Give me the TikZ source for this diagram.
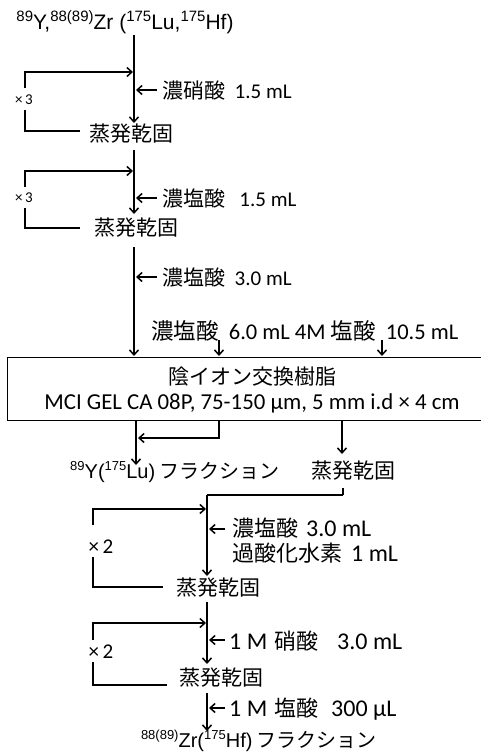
\documentclass[tikz,border=0pt]{standalone}
\usepackage{fontspec}
\setmainfont{Carlito}
\newfontfamily\jp{Noto Sans CJK JP}
\newfontfamily\ar{Liberation Sans}
\usetikzlibrary{arrows.meta}
\newcommand\sups[1]{\raisebox{0.75ex}{\fontsize{13}{13}\selectfont #1}}
\newcommand\supt[1]{\raisebox{0.7ex}{\fontsize{15}{15}\selectfont #1}}
\newcommand\jpb{\jp\fontsize{22}{24}\selectfont}
\tikzset{
  ln/.style={line width=1.5pt},
  arr/.style={line width=1.5pt,-{Straight Barb[length=5pt,width=9pt]}},
  txt/.style={inner sep=0pt,font=\fontsize{21}{24}\selectfont},
  lbl/.style={txt,anchor=west},
  lblb/.style={inner sep=0pt,anchor=west,font=\fontsize{24}{26}\selectfont},
  rep/.style={inner sep=0pt,font=\fontsize{21}{24}\selectfont},
  reps/.style={inner sep=0pt,font=\fontsize{15}{16}\selectfont},
}
\begin{document}
\begin{tikzpicture}[x=1pt,y=-1pt]
\useasboundingbox (0,0) rectangle (481,755);
% title
\node[inner sep=0pt,font=\fontsize{21}{24}\selectfont\ar] (T) at (125,22) {\supt{89}Y,\supt{88(89)}Zr (\supt{175}Lu,\supt{175}Hf)};
% section 1
\coordinate (a0) at (134,35); \coordinate (a1) at (134,123);
\draw[arr] (a0) -- (a1);
\coordinate (l1a) at (25,88); \coordinate (l1b) at (25,72); \coordinate (l1c) at (133,72);
\draw[arr] (l1a) -- (l1b) -- (l1c);
\coordinate (l1d) at (25,110); \coordinate (l1e) at (25,131); \coordinate (l1f) at (80,131);
\draw[ln] (l1d) -- (l1e) -- (l1f);
\node[reps] (x1) at (24,100) {×\,3};
\coordinate (r1a) at (157,90); \coordinate (r1b) at (136,90);
\draw[arr] (r1a) -- (r1b);
\node[lbl] (L1) at (162,90) {{\jp 濃硝酸}\ \ 1.5 mL};
\node[txt] (E1) at (131,134) {\jp 蒸発乾固};
% section 2
\coordinate (b0) at (134,150); \coordinate (b1) at (134,214);
\draw[arr] (b0) -- (b1);
\coordinate (l2a) at (25,187); \coordinate (l2b) at (25,171); \coordinate (l2c) at (133,171);
\draw[arr] (l2a) -- (l2b) -- (l2c);
\coordinate (l2d) at (25,208); \coordinate (l2e) at (25,228); \coordinate (l2f) at (80,228);
\draw[ln] (l2d) -- (l2e) -- (l2f);
\node[reps] (x2) at (24,198) {×\,3};
\coordinate (r2a) at (157,198); \coordinate (r2b) at (136,198);
\draw[arr] (r2a) -- (r2b);
\node[lbl] (L2) at (162,198) {{\jp 濃塩酸}\ \ \ 1.5 mL};
\node[txt] (E2) at (136,228) {\jp 蒸発乾固};
% section 3
\coordinate (c0) at (134,247); \coordinate (c1) at (134,356);
\draw[arr] (c0) -- (c1);
\coordinate (r3a) at (157,277); \coordinate (r3b) at (136,277);
\draw[arr] (r3a) -- (r3b);
\node[lbl] (L3) at (162,277) {{\jp 濃塩酸}\ \ 3.0 mL};
\node[lbl,font=\fontsize{22.5}{24}\selectfont] (L4) at (151,331) {{\jp 濃塩酸}\ \ 6.0 mL 4M {\jp 塩酸}\ \ 10.5 mL};
\coordinate (s1a) at (219,340); \coordinate (s1b) at (219,356);
\coordinate (s2a) at (382,340); \coordinate (s2b) at (382,356);
\draw[arr] (s1a) -- (s1b);
\draw[arr] (s2a) -- (s2b);
% column box
\node[draw,line width=1pt,minimum width=483pt,minimum height=63pt,anchor=north west,inner sep=0pt] (box) at (7,357) {};
\node[txt] (B1) at (252,377) {\jp 陰イオン交換樹脂};
\node[txt,font=\fontsize{22.8}{24}\selectfont] (B2) at (252,403) {MCI GEL CA 08P, 75-150 μm, 5 mm i.d × 4 cm};
% below box
\coordinate (d0) at (136,420); \coordinate (d1) at (136,465);
\draw[arr] (d0) -- (d1);
\coordinate (d2) at (219,420); \coordinate (d3) at (219,438); \coordinate (d4) at (138,438);
\draw[arr] (d2) -- (d3) -- (d4);
\coordinate (d5) at (342,420); \coordinate (d6) at (342,454);
\draw[arr] (d5) -- (d6);
\node[inner sep=0pt,font=\fontsize{20}{24}\selectfont] (F1) at (175,472) {{\ar\sups{89}Y(\sups{175}Lu)} {\jp フラクション}};
\node[txt] (E3) at (353,471) {\jp 蒸発乾固};
% section 4
\coordinate (e0) at (343,488); \coordinate (e1) at (343,495); \coordinate (e2) at (207,495);
\draw[ln] (e0) -- (e1);
\draw[line width=2.2pt] (e1) -- (e2);
\coordinate (e3) at (207,576);
\draw[arr] (e2) -- (e3);
\coordinate (l4a) at (93,525); \coordinate (l4b) at (93,509); \coordinate (l4c) at (206,509);
\draw[arr] (l4a) -- (l4b) -- (l4c);
\coordinate (l4d) at (93,557); \coordinate (l4e) at (93,587); \coordinate (l4f) at (163,587);
\draw[ln] (l4d) -- (l4e) -- (l4f);
\node[rep] (x3) at (101,547) {×\,2};
\coordinate (r4a) at (225,529); \coordinate (r4b) at (209,529);
\draw[arr] (r4a) -- (r4b);
\node[lblb] (L5) at (232,528) {\makebox[74pt][l]{\jpb 濃塩酸}3.0 mL};
\node[lblb] (L6) at (232,553) {\makebox[119pt][l]{\jpb 過酸化水素}1 mL};
\node[txt] (E4) at (218,588) {\jp 蒸発乾固};
% section 5
\coordinate (f0) at (207,602); \coordinate (f1) at (207,664);
\draw[arr] (f0) -- (f1);
\coordinate (l5a) at (93,640); \coordinate (l5b) at (93,623); \coordinate (l5c) at (206,623);
\draw[arr] (l5a) -- (l5b) -- (l5c);
\coordinate (l5d) at (93,662); \coordinate (l5e) at (93,685); \coordinate (l5f) at (167,685);
\draw[ln] (l5d) -- (l5e) -- (l5f);
\node[rep] (x4) at (101,652) {×\,2};
\coordinate (r5a) at (225,640); \coordinate (r5b) at (209,640);
\draw[arr] (r5a) -- (r5b);
\node[lblb] (L7) at (229,641) {\makebox[45pt][l]{1 M}\makebox[63pt][l]{\jpb 硝酸}3.0 mL};
\node[txt] (E5) at (221,678) {\jp 蒸発乾固};
% section 6
\coordinate (g0) at (207,693); \coordinate (g1) at (207,731);
\draw[arr] (g0) -- (g1);
\coordinate (r6a) at (225,708); \coordinate (r6b) at (209,708);
\draw[arr] (r6a) -- (r6b);
\node[lblb] (L8) at (229,709) {\makebox[45pt][l]{1 M}\makebox[57pt][l]{\jpb 塩酸}300 μL};
\node[inner sep=0pt,font=\fontsize{20}{24}\selectfont] (F2) at (259,741) {{\ar\sups{88(89)}Zr(\sups{175}Hf)} {\jp フラクション}};
\end{tikzpicture}
\end{document}
